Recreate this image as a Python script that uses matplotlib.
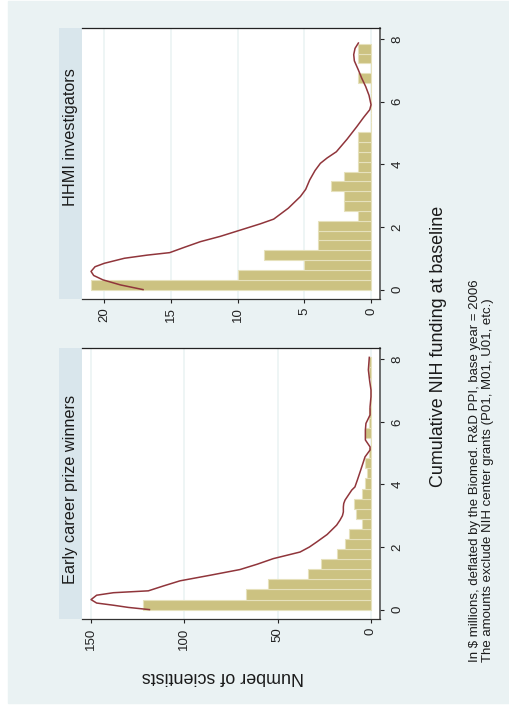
import matplotlib.pyplot as plt
from matplotlib.patches import Rectangle

plt.rcParams['font.family'] = ['Liberation Sans', 'DejaVu Sans']

# histogram counts, 25 equal-width bins starting at 0 ($ millions)
hhmi_counts = [21, 10, 5, 8, 4, 4, 4, 1, 2, 2, 3, 2, 1,
               1, 1, 1, 0, 0, 0, 0, 0, 1, 0, 1, 1]
hhmi_top = 7.85
early_counts = [122, 67, 55, 34, 27, 18, 14, 12, 5, 8, 9, 5, 3,
                2, 3, 1, 0, 3, 1, 1, 0, 0, 0, 1, 1]
early_top = 8.06

# kernel density overlays, scaled to frequency
hhmi_kde_f = [0.0, 0.15, 0.31, 0.45, 0.58, 0.73, 0.84, 1.0, 1.1, 1.18,
              1.35, 1.53, 1.7, 1.9, 2.1, 2.25, 2.6, 2.97, 3.2, 3.5, 3.8,
              4.03, 4.2, 4.4, 4.8, 5.2, 5.5, 5.74, 5.9, 6.2, 6.48, 6.75,
              7.01, 7.3, 7.5, 7.7, 7.87]
hhmi_kde_c = [17.1, 18.8, 20.1, 20.8, 21.0, 20.7, 20.0, 18.5, 16.8, 15.1,
              14.0, 12.8, 11.3, 9.8, 8.3, 7.3, 6.2, 5.3, 4.9, 4.6, 4.2,
              3.8, 3.3, 2.6, 1.8, 1.07, 0.55, 0.1, 0.0, 0.15, 0.4, 0.7,
              0.95, 1.25, 1.3, 1.2, 0.95]
early_kde_f = [0.0, 0.07, 0.14, 0.21, 0.32, 0.46, 0.54, 0.6, 0.76, 0.92,
               1.1, 1.28, 1.45, 1.63, 1.84, 2.0, 2.16, 2.4, 2.7, 2.86, 3.0,
               3.12, 3.28, 3.39, 3.5, 3.82, 3.92, 4.14, 4.46, 4.88, 5.1,
               5.2, 5.42, 5.74, 5.95, 6.22, 6.48, 6.8, 7.02, 7.3, 7.66, 8.06]
early_kde_c = [118.7, 130, 138, 147, 150, 147, 138, 119.3, 111, 102.3,
               86, 70.2, 61, 52.3, 38, 33, 29.1, 23.5, 18.4, 16.6, 15.3,
               14.8, 14.8, 14.6, 13.9, 10.3, 8.6, 7.3, 5.5, 3.2, 0.5,
               0.5, 3.0, 3.0, 2.7, 0.5, 0.5, 0.0, 0.0, 0.7, 1.4, 0.9]

funding_ticks = [0, 2, 4, 6, 8]
hhmi_count_ticks = [0, 5, 10, 15, 20]
early_count_ticks = [0, 50, 100, 150]

bg = '#EAF2F3'
strip_col = '#D9E6EC'
bar_col = '#CCC281'
bar_edge = '#E6E1BC'
line_col = '#90353B'

W, H = 510, 706


def fx(px):
    return px / W


def fy(py):
    return 1 - py / H


fig = plt.figure(figsize=(W / 100, H / 100), dpi=100)
fig.patch.set_facecolor('white')
fig.patches.append(Rectangle((fx(8), fy(703)), fx(502), 702 / H,
                             transform=fig.transFigure, color=bg, zorder=-10))


def panel(top, bottom, counts, top_val, kde_f, kde_c, xlim, xticks, title, title_y):
    strip = fig.add_axes([fx(59.3), fy(bottom), fx(81.7 - 59.3), (bottom - top) / H])
    strip.set_facecolor(strip_col)
    strip.set_xticks([])
    strip.set_yticks([])
    for s in strip.spines.values():
        s.set_visible(False)
    fig.text(fx(70.5), fy(title_y), title, rotation=90, ha='center', va='center',
             fontsize=11.7, color='#1a1a1a')

    ax = fig.add_axes([fx(81.7), fy(bottom), fx(380.5 - 81.7), (bottom - top) / H])
    ax.set_facecolor('white')
    w = top_val / len(counts)
    edges = [i * w for i in range(len(counts))]
    ax.barh(edges, counts, height=w, align='edge', color=bar_col,
            edgecolor=bar_edge, linewidth=0.8, zorder=2)
    ax.plot(kde_c, kde_f, color=line_col, lw=1.1, zorder=3)
    ax.set_xlim(*xlim)
    ax.set_ylim(-0.3, 8.35)
    ax.set_xticks(xticks)
    ax.set_yticks(funding_ticks)
    ax.grid(axis='x', color=bg, lw=1.1, zorder=0)
    ax.set_axisbelow(True)
    ax.yaxis.tick_right()
    ax.spines['left'].set_visible(False)
    ax.spines['top'].set_color('#222222')
    ax.spines['top'].set_linewidth(0.9)
    ax.spines['bottom'].set_color('#333333')
    ax.spines['bottom'].set_linewidth(0.9)
    ax.spines['right'].set_color('#555555')
    ax.spines['right'].set_linewidth(1.2)
    ax.tick_params(axis='x', direction='out', length=3.2, width=0.8,
                   labelsize=9.5, pad=3.0, labelrotation=90, colors='#222222')
    ax.tick_params(axis='y', direction='out', length=3.2, width=0.8,
                   labelsize=9.5, pad=4.5, labelrotation=90, colors='#222222')
    for lab in ax.get_yticklabels():
        lab.set_va('center')
    return ax


panel(28, 299, hhmi_counts, hhmi_top, hhmi_kde_f, hhmi_kde_c,
      (21.7, -0.71), hhmi_count_ticks, 'HHMI investigators', 137)
panel(348.3, 619, early_counts, early_top, early_kde_f, early_kde_c,
      (155.0, -5.1), early_count_ticks, 'Early career prize winners', 489)

fig.text(fx(223), fy(676.7), 'Number of scientists', rotation=180,
         ha='center', va='center', fontsize=12.9, color='#1a1a1a')
fig.text(fx(438.3), fy(346.7), 'Cumulative NIH funding at baseline', rotation=90,
         ha='center', va='center', fontsize=12.9, color='#1a1a1a')
fig.text(fx(475), fy(662), 'In $ millions, deflated by the Biomed. R&D PPI, base year = 2006',
         rotation=90, ha='center', va='bottom', fontsize=9.5, color='#1a1a1a')
fig.text(fx(488.3), fy(662), 'The amounts exclude NIH center grants (P01, M01, U01, etc.)',
         rotation=90, ha='center', va='bottom', fontsize=9.5, color='#1a1a1a')

fig.savefig('out.png', dpi=100, facecolor='white')
